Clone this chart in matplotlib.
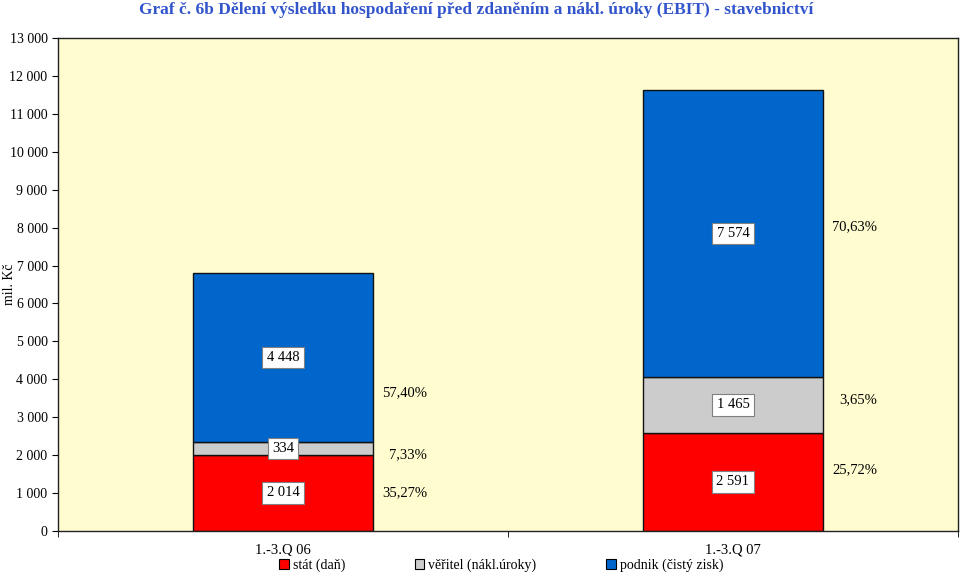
import matplotlib
matplotlib.use("Agg")
import matplotlib.pyplot as plt
from matplotlib.patches import Patch

# data
periods = ['1.-3.Q 06', '1.-3.Q 07']
series = ['stát (daň)', 'věřitel (nákl.úroky)', 'podnik (čistý zisk)']
stat = [2014, 2591]
veritel = [334, 1465]
podnik = [4448, 7574]
pct_labels = [['35,27%', '7,33%', '57,40%'], ['25,72%', '3,65%', '70,63%']]
pct_y = [[1000, 2000, 3640], [1610, 3450, 8020]]
colors = ['#FF0000', '#CCCCCC', '#0066CC']

plt.rcParams['font.family'] = ['Liberation Serif', 'DejaVu Serif']

fig = plt.figure(figsize=(9.6, 5.74), dpi=100)
ax = fig.add_axes([58/960, 1 - 531/574, 900/960, (531-38)/574])
ax.set_facecolor('#FFFDD0')

x = list(range(len(periods)))
width = 0.4
bottom = [0, 0]
for vals, col in zip([stat, veritel, podnik], colors):
    ax.bar(x, vals, width, bottom=bottom, color=col, edgecolor='#111111', linewidth=1, zorder=2)
    for xi, v, b in zip(x, vals, bottom):
        ax.text(xi, b + v / 2, f'{v:,}'.replace(',', ' '), ha='center', va='center', fontsize=10.5,
                bbox=dict(facecolor='white', edgecolor='#808080', linewidth=0.8, pad=3), zorder=3)
    bottom = [b + v for b, v in zip(bottom, vals)]

for xi in x:
    for lab, yy in zip(pct_labels[xi], pct_y[xi]):
        ax.text(xi + 0.32, yy, lab, ha='right', va='center', fontsize=10.5)

ax.set_xlim(-0.5, 1.5)
ax.set_ylim(0, 13000)
ax.set_yticks(range(0, 13001, 1000))
ax.set_yticklabels([f'{v:,}'.replace(',', ' ') for v in range(0, 13001, 1000)], fontsize=10)
ax.set_xticks(x)
ax.set_xticklabels(periods, fontsize=10.5)
ax.tick_params(axis='x', length=0, pad=9)
ax.set_xticks([-0.5, 0.5, 1.5], minor=True)
ax.tick_params(axis='x', which='minor', length=4, direction='out')
ax.tick_params(axis='y', length=4, direction='out')
for s in ax.spines.values():
    s.set_color('#222222')
    s.set_linewidth(1)
ax.set_ylabel('mil. Kč', fontsize=10)
ax.yaxis.set_label_coords(-0.047, 0.5)

fig.suptitle('Graf č. 6b Dělení výsledku hospodaření před zdaněním a nákl. úroky (EBIT) - stavebnictví',
             x=0.496, y=0.997, color='#3355CC', fontweight='bold', fontsize=12.5, va='top')

handles = [Patch(facecolor=c, edgecolor='black', linewidth=0.8) for c in colors]
leg = fig.legend(handles, series, loc='lower center', bbox_to_anchor=(0.522, -0.012), ncol=3,
                 fontsize=10, frameon=True, handlelength=0.7, handleheight=0.8,
                 handletextpad=0.3, columnspacing=5.0, borderpad=0.15, fancybox=False)
leg.get_frame().set_facecolor('white')
leg.get_frame().set_edgecolor('white')

fig.savefig('out.png', dpi=100)
